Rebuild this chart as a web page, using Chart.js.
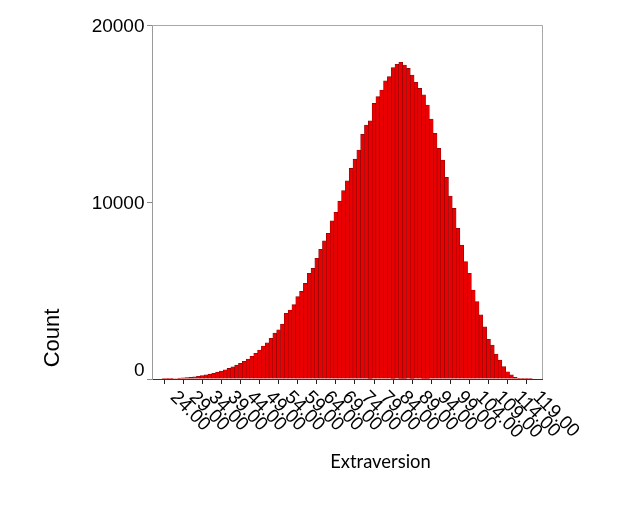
<!DOCTYPE html>
<html><head><meta charset="utf-8">
<script src="https://cdn.jsdelivr.net/npm/chart.js@4/dist/chart.umd.min.js"></script>
<style>html,body{margin:0;padding:0;background:#fff;} canvas{display:block;}</style>
</head><body>
<canvas id="c" width="639" height="511"></canvas>
<script>
const scores = [24,25,26,27,28,29,30,31,32,33,34,35,36,37,38,39,40,41,42,43,44,45,46,47,48,49,
  50,51,52,53,54,55,56,57,58,59,60,61,62,63,64,65,66,67,68,69,70,71,72,73,74,75,76,77,78,79,
  80,81,82,83,84,85,86,87,88,89,90,91,92,93,94,95,96,97,98,99,100,101,102,103,104,105,106,107,108,109,
  110,111,112,113,114,115,116,117,118,119,120];
const counts = [5,10,18,30,45,60,80,100,125,155,190,230,275,325,385,450,520,600,690,780,880,1000,1130,1280,1450,1640,
  1860,2050,2300,2600,2780,3100,3710,3900,4200,4650,4950,5400,5970,6250,6820,7330,7810,8230,8940,9420,10050,10640,11200,11900,12420,12940,13820,14350,14580,15570,
  15950,16330,16840,17080,17590,17780,17890,17740,17550,17170,16760,16420,16050,15480,14690,13880,13030,12370,11390,10340,9640,8510,7570,6630,5970,5030,4370,3620,2950,2240,
  1920,1410,1070,700,410,230,100,40,20,10,5];
const xTickValues = [24,29,34,39,44,49,54,59,64,69,74,79,84,89,94,99,104,109,114,119];
const xTickLabels = ['24.00','29.00','34.00','39.00','44.00','49.00','54.00','59.00','64.00','69.00',
  '74.00','79.00','84.00','89.00','94.00','99.00','104.00','109.00','114.00','119.00'];
const yTickValues = [0,10000,20000];
const yTickLabels = ['0','10000','20000'];
const xTitle = 'Extraversion';
const yTitle = 'Count';

const labelPlugin = {
  id: 'customLabels',
  afterDraw(chart) {
    const ctx = chart.ctx, xs = chart.scales.x, ys = chart.scales.y, ca = chart.chartArea;
    ctx.save();
    ctx.strokeStyle = '#a8a8a8'; ctx.lineWidth = 1;
    ctx.beginPath();
    ctx.moveTo(ca.left, Math.round(ca.top) + 0.5);
    ctx.lineTo(Math.round(ca.right) + 0.5, Math.round(ca.top) + 0.5);
    ctx.lineTo(Math.round(ca.right) + 0.5, ca.bottom);
    ctx.stroke();
    ctx.fillStyle = '#000';
    ctx.font = '19px "Liberation Sans", Arial, sans-serif';
    ctx.textAlign = 'left'; ctx.textBaseline = 'alphabetic';
    xTickValues.forEach((v, i) => {
      const px = xs.getPixelForValue(v);
      ctx.save();
      ctx.translate(px + 5.5, ca.bottom + 19);
      ctx.rotate(Math.PI / 4);
      ctx.fillText(xTickLabels[i], 0, 0);
      ctx.restore();
    });
    ctx.textAlign = 'right';
    yTickValues.forEach((v, i) => {
      const py = ys.getPixelForValue(v);
      const by = v === 0 ? py - 3.5 : py + 6.7;
      ctx.fillText(yTickLabels[i], ca.left - 7.5, by);
    });
    ctx.font = '22px "Liberation Sans", Arial, sans-serif';
    ctx.textAlign = 'center'; ctx.textBaseline = 'middle';
    ctx.save();
    ctx.translate(52.5, 338);
    ctx.rotate(-Math.PI / 2);
    ctx.fillText(yTitle, 0, 0);
    ctx.restore();
    ctx.font = '18.4px Lato, sans-serif';
    ctx.textBaseline = 'alphabetic';
    ctx.fillText(xTitle, 380.5, 468.3);
    ctx.restore();
  }
};

new Chart(document.getElementById('c'), {
  type: 'bar',
  data: {
    datasets: [{
      data: scores.map((s, i) => ({ x: s, y: counts[i] })),
      backgroundColor: '#ea0000',
      borderColor: '#8a0000',
      borderWidth: 0.6,
      barPercentage: 1,
      categoryPercentage: 1
    }]
  },
  options: {
    responsive: false,
    animation: false,
    devicePixelRatio: 1,
    layout: { padding: { left: 0, top: 25, right: 97, bottom: 0 } },
    plugins: { legend: { display: false }, tooltip: { enabled: false } },
    scales: {
      x: {
        type: 'linear', min: 20.85, max: 123.0, offset: false,
        afterBuildTicks(s) { s.ticks = xTickValues.map(v => ({ value: v })); },
        afterFit(s) { s.height = 132; },
        ticks: { display: false },
        grid: { offset: false, drawOnChartArea: false, drawTicks: true, tickLength: 5, tickColor: '#222' },
        border: { color: '#333', width: 1 }
      },
      y: {
        type: 'linear', min: 0, max: 20000,
        afterBuildTicks(s) { s.ticks = yTickValues.map(v => ({ value: v })); },
        afterFit(s) { s.width = 152; },
        ticks: { display: false },
        grid: { drawOnChartArea: false, drawTicks: true, tickLength: 5, tickColor: '#8a8a8a' },
        border: { color: '#9a9a9a', width: 1 }
      }
    }
  },
  plugins: [labelPlugin]
});
</script>
</body></html>
